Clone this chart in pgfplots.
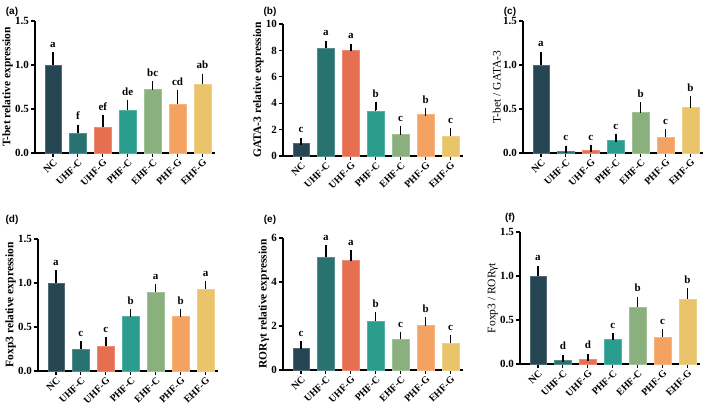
\documentclass[border=0pt]{standalone}
\usepackage{pgfplots}
\usepackage{pgfplotstable}
\pgfplotsset{compat=1.18}
\usepackage{fontspec}
\setmainfont{Liberation Serif}
\newfontfamily\arial{Liberation Sans}
\newcommand{\lbl}{\fontsize{10}{12}\selectfont\bfseries}
\newcommand{\tlbl}{\fontsize{11}{13}\selectfont\bfseries}
\newcommand{\ylbl}{\fontsize{11.5}{13}\selectfont\bfseries}
\newcommand{\ylblr}{\fontsize{11.5}{13}\selectfont}
\definecolor{c0}{HTML}{264653}
\definecolor{c1}{HTML}{287271}
\definecolor{c2}{HTML}{E76F51}
\definecolor{c3}{HTML}{2A9D8F}
\definecolor{c4}{HTML}{8AB17D}
\definecolor{c5}{HTML}{F4A261}
\definecolor{c6}{HTML}{E9C46A}

\pgfplotstableread{
x y e lab
0 1.00 0.10 a
1 0.23 0.05 f
2 0.29 0.10 ef
3 0.49 0.07 de
4 0.72 0.05 bc
5 0.56 0.11 cd
6 0.78 0.08 ab
}\ta
\pgfplotstableread{
x y e lab
0 1.00 0.10 c
1 8.20 0.26 a
2 8.03 0.20 a
3 3.41 0.40 b
4 1.62 0.35 c
5 3.13 0.20 b
6 1.52 0.30 c
}\tb
\pgfplotstableread{
x y e lab
0 1.00 0.11 a
1 0.026 0.014 c
2 0.034 0.016 c
3 0.14 0.03 c
4 0.46 0.075 b
5 0.18 0.045 c
6 0.516 0.085 b
}\tc
\pgfplotstableread{
x y e lab
0 1.00 0.10 a
1 0.253 0.045 c
2 0.283 0.055 c
3 0.62 0.037 b
4 0.90 0.045 a
5 0.62 0.037 b
6 0.93 0.045 a
}\td
\pgfplotstableread{
x y e lab
0 1.00 0.13 c
1 5.14 0.36 a
2 4.97 0.30 a
3 2.23 0.24 b
4 1.39 0.17 c
5 2.02 0.20 b
6 1.24 0.17 c
}\te
\pgfplotstableread{
x y e lab
0 1.00 0.075 a
1 0.045 0.019 d
2 0.057 0.019 d
3 0.277 0.035 c
4 0.648 0.075 b
5 0.307 0.05 c
6 0.742 0.075 b
}\tf

\pgfplotsset{
  panel/.style={
    scale only axis, width=180pt, height=132pt, anchor=south west,
    axis x line=bottom, axis y line=left,
    axis line style={line width=1.2pt, -, black},
    xmin=-0.72, xmax=6.5, ymin=0,
    xtick={0,...,6}, xticklabels={NC,UHF-C,UHF-G,PHF-C,EHF-C,PHF-G,EHF-G},
    x tick label style={rotate=45, anchor=north east, font=\lbl, inner sep=1pt},
    y tick label style={font=\tlbl, inner sep=2pt},
    tick style={line width=1.2pt, black}, tick align=outside,
    major tick length=4pt, minor tick num=0,
    /pgf/number format/assume math mode=true,
    ylabel style={font=\ylbl, inner sep=1pt},
    ylabel shift=-1pt,
    clip=false,
  },
  onedec/.style={ytick={0,0.5,1,1.5}, yticklabels={0.0,0.5,1.0,1.5}},
}

\newcommand{\bars}[1]{%
  \pgfplotsinvokeforeach{0,...,6}{%
    \addplot[ybar, bar width=0.66, bar shift=0pt, fill=c##1, draw=c##1!80!white, line width=0.4pt,
      restrict x to domain=##1:##1,
      error bars/.cd, y dir=plus, y explicit, error mark=-,
      error bar style={line width=1.5pt, draw=black},
      error mark options={line width=1.5pt, mark size=3.8pt, draw=black}]
      table[x=x, y=y, y error=e]{#1};
  }%
  \addplot[draw=none, mark=none, nodes near coords, point meta=explicit symbolic,
    every node near coord/.append style={font=\tlbl, anchor=base, yshift=8.5pt, inner sep=0pt}]
    table[x=x, y expr=\thisrow{y}+\thisrow{e}, meta=lab]{#1};
}

\begin{document}
\begin{tikzpicture}
\path[use as bounding box] (0pt,0pt) rectangle (709pt,416pt);

\node[font=\arial\bfseries\fontsize{10}{12}\selectfont] at (12pt,404pt) {(a)};
\node[font=\arial\bfseries\fontsize{10}{12}\selectfont] at (270pt,404pt) {(b)};
\node[font=\arial\bfseries\fontsize{10}{12}\selectfont] at (510pt,404pt) {(c)};
\node[font=\arial\bfseries\fontsize{10}{12}\selectfont] at (12pt,196pt) {(d)};
\node[font=\arial\bfseries\fontsize{10}{12}\selectfont] at (270pt,196pt) {(e)};
\node[font=\arial\bfseries\fontsize{10}{12}\selectfont] at (510pt,198pt) {(f)};

\begin{axis}[panel, onedec, at={(35pt,263pt)}, ymax=1.5,
  ylabel={T-bet relative expression}]
\bars{\ta}
\end{axis}

\begin{axis}[panel, at={(283pt,260pt)}, ymax=10, ytick={0,2,4,6,8,10},
  yticklabels={0,2,4,6,8,10},
  ylabel={GATA-3 relative expression}]
\bars{\tb}
\end{axis}

\begin{axis}[panel, onedec, at={(523pt,263pt)}, ymax=1.5,
  ylabel={T-bet / GATA-3}, ylabel style={font=\ylblr}]
\bars{\tc}
\end{axis}

\begin{axis}[panel, onedec, at={(38pt,45pt)}, ymax=1.5,
  ylabel={Foxp3 relative expression}]
\bars{\td}
\end{axis}

\begin{axis}[panel, at={(283pt,46pt)}, ymax=6, ytick={0,2,4,6}, yticklabels={0,2,4,6},
  ylabel={RORγt relative expression}]
\bars{\te}
\end{axis}

\begin{axis}[panel, onedec, at={(520pt,52pt)}, ymax=1.5,
  ylabel={Foxp3 / RORγt}, ylabel style={font=\ylblr}]
\bars{\tf}
\end{axis}
\end{tikzpicture}
\end{document}
